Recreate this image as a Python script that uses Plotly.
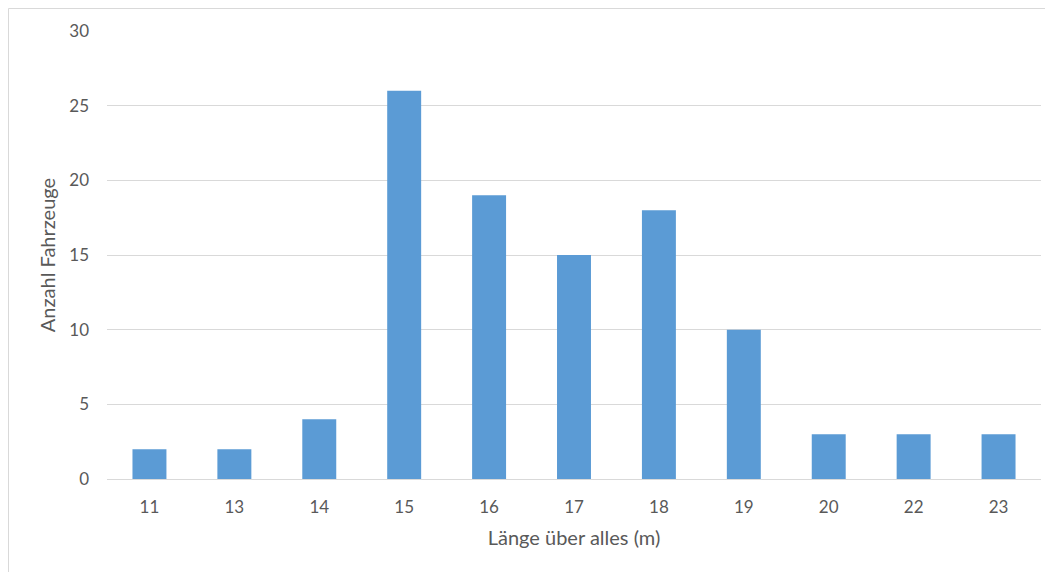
import plotly.graph_objects as go

categories = ["11", "13", "14", "15", "16", "17", "18", "19", "20", "22", "23"]
counts = [2, 2, 4, 26, 19, 15, 18, 10, 3, 3, 3]
y_ticks = [0, 5, 10, 15, 20, 25, 30]

x_title = "Länge über alles (m)"
y_title = "Anzahl Fahrzeuge"

font_family = "Lato, Calibri, Carlito, 'Open Sans', sans-serif"
text_color = "#595959"
grid_color = "#D9D9D9"

# page body has an 8px margin, so figure is sized/offset to compensate
W, H = 1045, 564
L, R, T, B = 99, 12, 23, 93
pw, ph = W - L - R, H - T - B

fig = go.Figure(go.Bar(x=categories, y=counts, marker=dict(color="#5B9BD5", line=dict(width=0))))

fig.update_layout(
    width=W, height=H,
    margin=dict(l=L, r=R, t=T, b=B),
    paper_bgcolor="white", plot_bgcolor="white",
    bargap=0.6,
    showlegend=False,
    font=dict(family=font_family, color=text_color, size=17),
    xaxis=dict(
        type="category",
        title=dict(text=x_title, font=dict(size=20, color=text_color), standoff=14),
        showgrid=False, showline=True, linecolor=grid_color, linewidth=1,
        ticks="", ticklabelstandoff=13,
        tickfont=dict(size=17, color=text_color),
    ),
    yaxis=dict(
        range=[0, 30], tickvals=y_ticks,
        title=dict(text=y_title, font=dict(size=20, color=text_color), standoff=8),
        showgrid=True, gridcolor=grid_color, gridwidth=1,
        zeroline=False, showline=False, ticks="",
        ticklabelstandoff=17,
        tickfont=dict(size=17, color=text_color),
    ),
    shapes=[
        dict(type="line", xref="paper", yref="paper", x0=(0.5 - L) / pw, x1=(W - L) / pw,
             y0=(H - B - 0.5) / ph, y1=(H - B - 0.5) / ph,
             line=dict(color="#D9D9D9", width=1)),
        dict(type="line", xref="paper", yref="paper", x0=(0.5 - L) / pw, x1=(0.5 - L) / pw,
             y0=-B / ph, y1=(H - B - 0.5) / ph,
             line=dict(color="#D9D9D9", width=1)),
    ],
)

fig.write_html("out.html")
